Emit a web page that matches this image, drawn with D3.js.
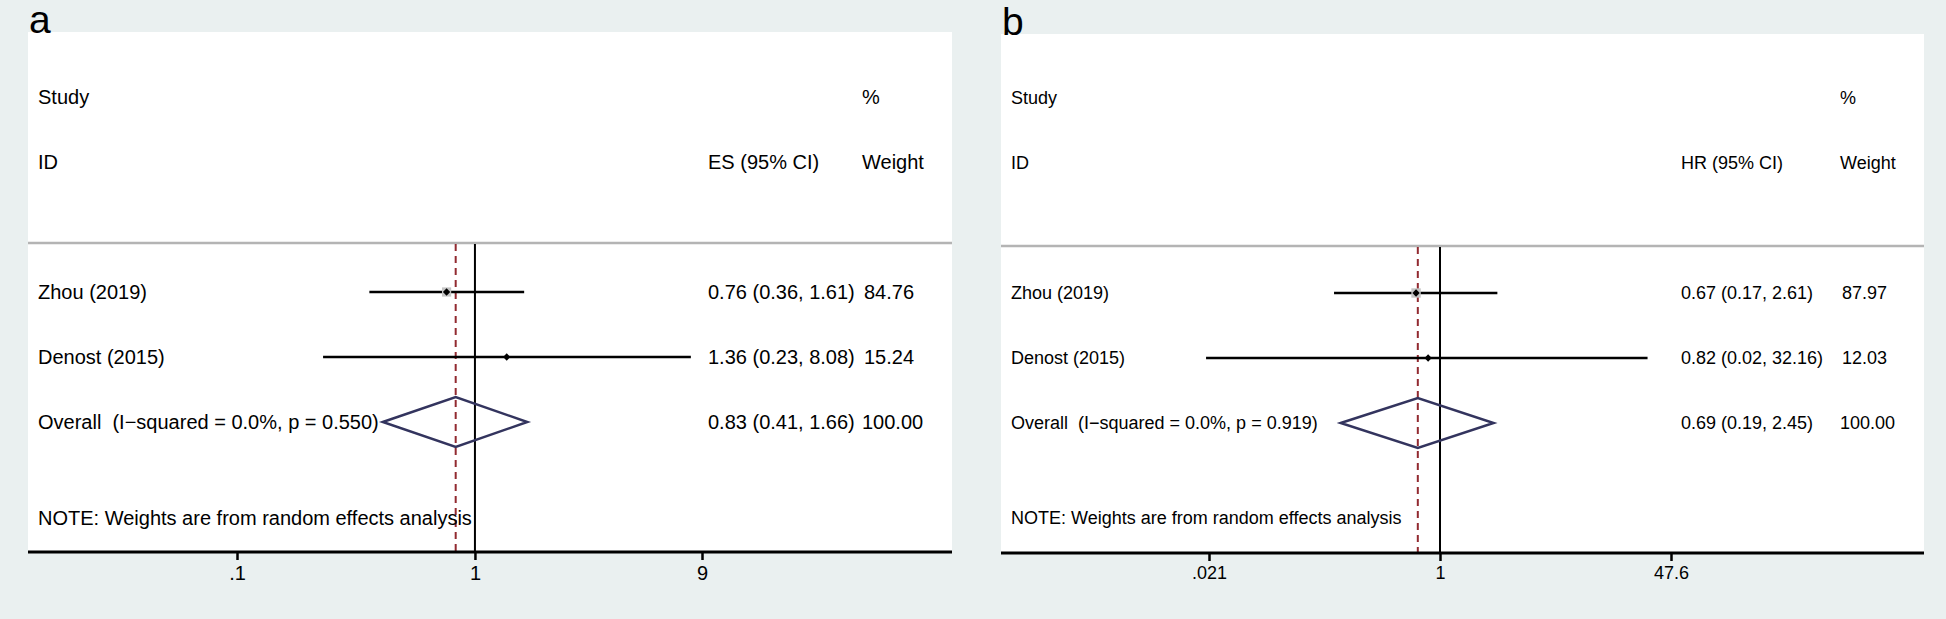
<!DOCTYPE html>
<html>
<head>
<meta charset="utf-8">
<script src="https://cdnjs.cloudflare.com/ajax/libs/d3/7.8.5/d3.min.js"></script>
<style>
  body { margin: 0; background: #eaf0f0; }
  text { font-family: "Liberation Sans", Arial, sans-serif; fill: #000; white-space: pre; }
</style>
</head>
<body>
<svg id="graph"></svg>
<script>
// study rows shared by both panels
var studies = ["Zhou (2019)", "Denost (2015)"];

// panel a: ES
var esA = [0.76, 1.36];
var loA = [0.36, 0.23];
var hiA = [1.61, 8.08];
var weightA = [84.76, 15.24];
var overallA = [0.83, 0.41, 1.66];
var overallLabelA = "Overall  (I\u2212squared = 0.0%, p = 0.550)";
var ticksA = [0.1, 1, 9];
var tickLabelsA = [".1", "1", "9"];

// panel b: HR
var esB = [0.67, 0.82];
var loB = [0.17, 0.02];
var hiB = [2.61, 32.16];
var weightB = [87.97, 12.03];
var overallB = [0.69, 0.19, 2.45];
var overallLabelB = "Overall  (I\u2212squared = 0.0%, p = 0.919)";
var ticksB = [1 / 47.6, 1, 47.6];
var tickLabelsB = [".021", "1", "47.6"];

width = 1946;
height = 619;

canvas = d3.select("#graph")
    .attr("width", width)
    .attr("height", height);

function forest(p) {
    var g = canvas.append("g");

    // log x scale
    var x = d3.scaleLog()
        .domain([p.ticks[0], p.ticks[2]])
        .range([p.x0, p.x1]);

    // white plot region
    g.append("rect")
        .attr("x", p.left).attr("y", p.top)
        .attr("width", p.right - p.left).attr("height", p.axisY - p.top)
        .attr("fill", "#fff");

    // panel letter
    g.append("text")
        .attr("x", p.left + 1).attr("y", p.top + 1)
        .attr("style", "font-size:39px")
        .text(p.letter);

    // headers
    var hs = "font-size:" + p.fs + "px";
    g.append("text").attr("x", p.textX).attr("y", p.headY[0]).attr("dy", ".35em").attr("style", hs).text("Study");
    g.append("text").attr("x", p.textX).attr("y", p.headY[1]).attr("dy", ".35em").attr("style", hs).text("ID");
    g.append("text").attr("x", p.esX).attr("y", p.headY[1]).attr("dy", ".35em").attr("style", hs).text(p.esHead);
    g.append("text").attr("x", p.wX - 2).attr("y", p.headY[0]).attr("dy", ".35em").attr("style", hs).text("%");
    g.append("text").attr("x", p.wX - 2).attr("y", p.headY[1]).attr("dy", ".35em").attr("style", hs).text("Weight");

    // grey separator
    g.append("line")
        .attr("x1", p.left).attr("x2", p.right)
        .attr("y1", p.sepY).attr("y2", p.sepY)
        .attr("style", "stroke:#b4b4b4; stroke-width:2.5");

    // null line & overall dashed line
    g.append("line")
        .attr("x1", x(1)).attr("x2", x(1))
        .attr("y1", p.sepY + 1).attr("y2", p.axisY)
        .attr("style", "stroke:#000; stroke-width:2");
    g.append("line")
        .attr("x1", x(p.overall[0])).attr("x2", x(p.overall[0]))
        .attr("y1", p.sepY + 1).attr("y2", p.axisY)
        .attr("style", "stroke:#922a30; stroke-width:2; stroke-dasharray:7,5");

    var rows = studies.map((s, i) => ({name: s, es: p.es[i], lo: p.lo[i], hi: p.hi[i], w: p.w[i], y: p.rowY[i]}));

    // CI lines
    g.selectAll(".ci").data(rows).enter().append("line")
        .attr("x1", (d) => x(d.lo)).attr("x2", (d) => x(d.hi))
        .attr("y1", (d) => d.y).attr("y2", (d) => d.y)
        .attr("style", "stroke:#000; stroke-width:2.5");

    // weight boxes
    g.selectAll(".box").data(rows).enter().append("rect")
        .attr("x", (d) => x(d.es) - 0.5 * Math.sqrt(d.w))
        .attr("y", (d) => d.y - 0.5 * Math.sqrt(d.w))
        .attr("width", (d) => Math.sqrt(d.w))
        .attr("height", (d) => Math.sqrt(d.w))
        .attr("fill", "#c4c4c4");

    // point estimates
    g.selectAll(".pt").data(rows).enter().append("path")
        .attr("d", d3.symbol(d3.symbolDiamond2, 34))
        .attr("transform", (d) => "translate(" + x(d.es) + "," + d.y + ")")
        .attr("fill", "#000");

    // study labels & stats
    g.selectAll(".lab").data(rows).enter().append("text")
        .attr("x", p.textX).attr("y", (d) => d.y).attr("dy", ".35em").attr("style", hs)
        .text((d) => d.name);
    g.selectAll(".est").data(rows).enter().append("text")
        .attr("x", p.esX).attr("y", (d) => d.y).attr("dy", ".35em").attr("style", hs)
        .text((d) => d.es.toFixed(2) + " (" + d.lo.toFixed(2) + ", " + d.hi.toFixed(2) + ")");
    g.selectAll(".wt").data(rows).enter().append("text")
        .attr("x", p.wX).attr("y", (d) => d.y).attr("dy", ".35em").attr("style", hs)
        .text((d) => d.w.toFixed(2));

    // overall diamond
    var oy = p.rowY[2], oh = 25;
    var o = p.overall;
    g.append("path")
        .attr("d", d3.line()([[x(o[1]), oy], [x(o[0]), oy - oh], [x(o[2]), oy], [x(o[0]), oy + oh]]) + "Z")
        .attr("style", "fill:none; stroke:#33345e; stroke-width:2.5");
    g.append("text").attr("x", p.textX).attr("y", oy).attr("dy", ".35em").attr("style", hs).text(p.overallLabel);
    g.append("text").attr("x", p.esX).attr("y", oy).attr("dy", ".35em").attr("style", hs)
        .text(o[0].toFixed(2) + " (" + o[1].toFixed(2) + ", " + o[2].toFixed(2) + ")");
    g.append("text").attr("x", p.wX - 2).attr("y", oy).attr("dy", ".35em").attr("style", hs).text((100).toFixed(2));

    // note
    g.append("text").attr("x", p.textX).attr("y", p.noteY).attr("dy", ".35em").attr("style", hs)
        .text("NOTE: Weights are from random effects analysis");

    // x axis
    var ax = g.append("g")
        .attr("transform", "translate(0," + p.axisY + ")")
        .call(d3.axisBottom(x).tickValues(p.ticks).tickFormat((d, i) => p.tickLabels[i]).tickSize(8).tickSizeOuter(0));
    ax.select(".domain").remove();
    ax.selectAll(".tick line").attr("stroke-width", 2.5);
    ax.selectAll(".tick text").attr("style", hs).attr("dy", "0.85em").attr("y", 11);
    g.append("line")
        .attr("x1", p.left).attr("x2", p.right)
        .attr("y1", p.axisY).attr("y2", p.axisY)
        .attr("style", "stroke:#000; stroke-width:3");
}

forest({
    letter: "a", left: 28, right: 952, top: 32, axisY: 552, sepY: 243,
    headY: [97, 162], rowY: [292, 357, 422], noteY: 518, fs: 20,
    textX: 38, esX: 708, wX: 864, esHead: "ES (95% CI)",
    x0: 237, x1: 702, ticks: ticksA, tickLabels: tickLabelsA,
    es: esA, lo: loA, hi: hiA, w: weightA, overall: overallA, overallLabel: overallLabelA
});

forest({
    letter: "b", left: 1001, right: 1924, top: 34, axisY: 553, sepY: 246,
    headY: [98, 163], rowY: [293, 358, 423], noteY: 518, fs: 18,
    textX: 1011, esX: 1681, wX: 1842, esHead: "HR (95% CI)",
    x0: 1209, x1: 1671, ticks: ticksB, tickLabels: tickLabelsB,
    es: esB, lo: loB, hi: hiB, w: weightB, overall: overallB, overallLabel: overallLabelB
});
</script>
</body>
</html>
